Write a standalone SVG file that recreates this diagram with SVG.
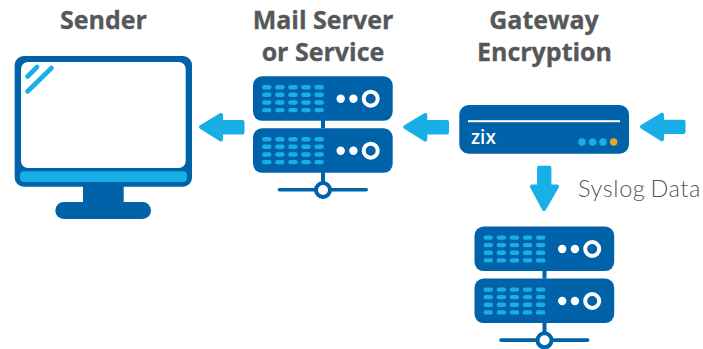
<svg xmlns="http://www.w3.org/2000/svg" width="703" height="349" viewBox="0 0 703 349">
<style>
.t{font-family:"Open Sans","Noto Sans",Arial,sans-serif;font-weight:700;font-size:25px;fill:#54585b;stroke:#54585b;stroke-width:.3;text-anchor:middle}
.d{fill:#0062a8}
.a{fill:#18aee6;stroke:#18aee6;stroke-width:4;stroke-linejoin:round}
.g{fill:#18aee6}
.w{fill:#fff}
</style>
<defs>
<g id="dr"><rect x="0" width="9.5" height="4.4" rx="2.2" class="g"/><rect x="13.1" width="9.5" height="4.4" rx="2.2" class="g"/><rect x="26.2" width="9.5" height="4.4" rx="2.2" class="g"/><rect x="39.3" width="9.5" height="4.4" rx="2.2" class="g"/><rect x="52.4" width="9.5" height="4.4" rx="2.2" class="g"/></g>
<g id="unit"><rect width="139.7" height="44.5" rx="9" class="d"/>
<use href="#dr" x="9" y="8.8"/><use href="#dr" x="9" y="16.3"/><use href="#dr" x="9" y="24"/><use href="#dr" x="9" y="31.6"/>
<circle cx="87.7" cy="22.4" r="4.2" class="w"/><circle cx="100.4" cy="22.4" r="4.2" class="w"/><circle cx="117.7" cy="22.4" r="7" fill="none" stroke="#fff" stroke-width="4"/></g>
<g id="server"><rect x="68" y="40" width="4" height="12" class="d"/><use href="#unit"/><use href="#unit" y="52"/>
<rect x="24.7" y="111.7" width="90.3" height="3.6" rx="1.8" class="d"/><rect x="68" y="96" width="4" height="16" class="d"/><circle cx="70" cy="113.7" r="7" fill="#fff" stroke="#0062a8" stroke-width="4"/></g>
</defs>
<g id="sender">
<rect x="14.7" y="56" width="177.3" height="130.7" rx="9" class="d"/>
<rect x="21" y="62" width="164.7" height="106" rx="7" class="w"/>
<rect x="20" y="171.3" width="167" height="10.7" rx="4" class="g"/>
<rect x="83" y="186" width="40.7" height="18" class="d"/>
<rect x="55.3" y="202" width="95.7" height="17" rx="8.5" class="d"/>
<path d="M27.5 76.500L37 67M27.500 91.500L51.500 68" stroke="#18aee6" stroke-width="4.600" stroke-linecap="round" fill="none"/>
<text x="103.500" y="29" class="t">Sender</text>
</g>
<g id="mail-server"><use href="#server" x="253" y="76.300"/>
<text x="323" y="29" class="t">Mail Server</text><text x="323" y="61" class="t">or Service</text></g>
<g id="gateway">
<rect x="459.300" y="105" width="169.700" height="48.700" rx="9.500" class="d"/>
<rect x="468" y="120.200" width="152" height="2" class="w"/>
<text x="471" y="144" font-family="'Open Sans','Noto Sans',sans-serif" font-weight="600" font-size="19" fill="#fff">zix</text>
<circle cx="582" cy="142" r="3.700" class="g"/><circle cx="592.600" cy="142" r="3.700" class="g"/><circle cx="603" cy="142" r="3.700" class="g"/><circle cx="613.700" cy="142" r="3.700" fill="#e9a823"/>
<text x="544" y="29" class="t">Gateway</text><text x="544.500" y="61" class="t">Encryption</text></g>
<g id="syslog-server"><use href="#server" x="474.500" y="226.600"/></g>
<g id="connectors">
<path id="a1" class="a" d="M201 127L221 115V122H242.500V132.400H221V139.500Z"/>
<path id="a2" class="a" d="M405.300 127L425.300 115V122H447V132.400H425.300V139.500Z"/>
<path id="a3" class="a" d="M642 126.700L662 114.700V121.700H683.500V132.100H662V139.200Z"/>
<path id="a4" class="a" d="M544 209L532 186.500H539V167.700H549.400V186.500H557Z"/>
</g>
<text id="syslog-label" x="578" y="197" font-family="Lato,'Open Sans',sans-serif" font-weight="300" font-size="23.500" letter-spacing="0.6" word-spacing="-2" fill="#54585b">Syslog Data</text>
</svg>
